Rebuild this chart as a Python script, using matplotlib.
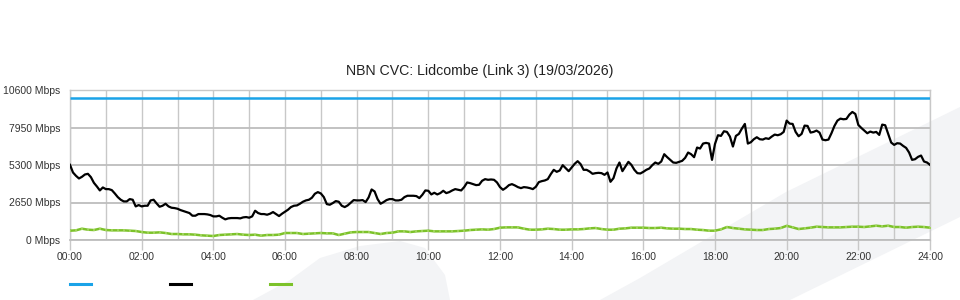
import matplotlib
matplotlib.use('Agg')
import matplotlib.pyplot as plt
import numpy as np
from matplotlib.lines import Line2D
from matplotlib.patches import Polygon

plt.rcParams['font.family'] = ['Liberation Sans', 'DejaVu Sans']

# ---------------- data ----------------
title = "NBN CVC: Lidcombe (Link 3) (19/03/2026)"
capacity_mbps = 10000
black_step_min = 5
black_mbps = [
    5311, 4770, 4536, 4348, 4465, 4630, 4677, 4442, 4042, 3784, 3502, 3713,
    3596, 3596, 3525, 3290, 3032, 2844, 2726, 2726, 2891, 2844, 2374, 2468,
    2374, 2421, 2421, 2797, 2844, 2585, 2350, 2421, 2562, 2374, 2280, 2256,
    2209, 2115, 2045, 1974, 1904, 1716, 1716, 1833, 1833, 1833, 1810, 1763,
    1669, 1669, 1716, 1575, 1457, 1528, 1551, 1551, 1551, 1528, 1598, 1622,
    1575, 1669, 2068, 1904, 1833, 1833, 1786, 1857, 1974, 1833, 1692, 1857,
    1998, 2139, 2327, 2421, 2444, 2562, 2703, 2797, 2844, 2985, 3267, 3384,
    3290, 3032, 2538, 2491, 2609, 2750, 2703, 2421, 2327, 2444, 2632, 2820,
    2797, 2797, 2820, 2679, 3008, 3572, 3431, 2891, 2562, 2679, 2820, 2891,
    2891, 2797, 2797, 2844, 3032, 3126, 3126, 3126, 3102, 2961, 3196, 3502,
    3478, 3220, 3337, 3220, 3314, 3478, 3314, 3384, 3502, 3596, 3549, 3502,
    3737, 4066, 4019, 3948, 3878, 3901, 4183, 4301, 4254, 4277, 4254, 4066,
    3737, 3549, 3690, 3878, 3948, 3854, 3737, 3666, 3737, 3713, 3666, 3596,
    3760, 4089, 4160, 4207, 4301, 4653, 4959, 4818, 4912, 5288, 5076, 4865,
    5123, 5382, 5570, 5358, 4959, 4959, 4841, 4677, 4724, 4747, 4724, 4606,
    4771, 4113, 4371, 5053, 5476, 4865, 5194, 5523, 5311, 4959, 4724, 4700,
    4818, 4959, 5053, 5288, 5476, 5382, 5546, 6063, 5852, 5664, 5476, 5452,
    5523, 5593, 5805, 6181, 6063, 5852, 6533, 6463, 6815, 6862, 6815, 5664,
    6792, 7403, 7356, 7685, 7638, 7309, 6604, 7356, 7497, 7873, 8202, 6815,
    6909, 7121, 7262, 7121, 7097, 7191, 7144, 7309, 7450, 7403, 7473, 7638,
    8437, 8225, 8202, 7638, 7332, 7497, 8084, 8061, 7591, 7638, 7732, 7591,
    7097, 7050, 7097, 7544, 8061, 8437, 8578, 8531, 8554, 8860, 9048, 8907,
    8131, 7920, 7732, 7544, 7662, 7591, 7638, 7426, 8155, 8108, 7497, 6886,
    6721, 6839, 6815, 6650, 6510, 6181, 5664, 5711, 5875, 5969, 5546, 5476,
    5311,
]
green_step_min = 10
green_mbps = [
    658, 682, 799, 728, 705, 799, 705, 682, 682, 682, 658, 635,
    564, 517, 517, 540, 494, 423, 423, 400, 400, 376, 329, 306,
    282, 353, 376, 400, 423, 376, 353, 376, 306, 353, 353, 376,
    494, 494, 494, 423, 447, 470, 494, 470, 470, 353, 447, 540,
    564, 564, 564, 494, 423, 494, 517, 611, 611, 564, 611, 635,
    658, 611, 611, 611, 611, 635, 658, 705, 728, 752, 728, 775,
    870, 893, 893, 893, 799, 728, 728, 752, 799, 775, 728, 728,
    752, 752, 775, 822, 846, 775, 728, 728, 799, 822, 870, 870,
    870, 846, 846, 870, 822, 799, 799, 775, 775, 728, 705, 658,
    658, 752, 917, 846, 799, 752, 728, 705, 705, 775, 799, 846,
    1000, 893, 775, 822, 870, 940, 917, 893, 893, 893, 917, 940,
    940, 917, 964, 1010, 964, 1010, 917, 917, 870, 917, 940, 917,
    870,
]
y_ticks = [0, 2650, 5300, 7950, 10600]
x_tick_hours = list(range(0, 25, 2))
x_tick_labels = [f"{h:02d}:00" for h in x_tick_hours]

t_black = np.arange(len(black_mbps)) * black_step_min / 60.0
t_green = np.arange(len(green_mbps)) * green_step_min / 60.0

# ---------------- figure ----------------
W, H = 960, 300
fig = plt.figure(figsize=(W / 100, H / 100), dpi=100)
fig.patch.set_facecolor('white')

def fpts(pts):
    return [(x / W, 1 - y / H) for x, y in pts]

bg = '#f3f4f6'
fig.add_artist(Polygon(fpts([(600, 300), (640, 278), (786, 192), (960, 107),
                             (960, 217), (790, 300)]),
                       closed=True, transform=fig.transFigure,
                       facecolor=bg, edgecolor='none', zorder=0))
fig.add_artist(Polygon(fpts([(253, 300), (290, 280), (320, 258), (360, 246),
                             (400, 241), (425, 248), (445, 275), (450, 300)]),
                       closed=True, transform=fig.transFigure,
                       facecolor=bg, edgecolor='none', zorder=0))

ax = fig.add_axes([70 / W, 60 / H, 860 / W, 150 / H])
ax.set_facecolor('none')
ax.set_zorder(1)

grid_c = '#c8c8c8'
ax.set_xlim(0, 24)
ax.set_ylim(0, 10600)
ax.set_xticks(x_tick_hours)
ax.set_xticklabels(x_tick_labels, fontsize=7.5, color='#333333')
ax.set_xticks(range(0, 25), minor=True)
ax.set_yticks(y_ticks)
ax.set_yticklabels([f"{v} Mbps" for v in y_ticks], fontsize=7.5, color='#333333')

ax.grid(which='both', axis='x', color=grid_c, lw=1.0, zorder=0)
ax.grid(which='major', axis='y', color='#bdbdbd', lw=1.3, zorder=0)
ax.tick_params(axis='x', which='major', length=7.2, width=1.0, color=grid_c, pad=1.5)
ax.tick_params(axis='x', which='minor', length=0)
ax.tick_params(axis='y', length=0, pad=7)
for s in ax.spines.values():
    s.set_color(grid_c)
    s.set_linewidth(1.0)
ax.spines['bottom'].set_color('#bdbdbd')
ax.spines['bottom'].set_linewidth(1.3)

ax.plot(t_black, [capacity_mbps] * len(t_black), color='#1aa3e8', lw=1.8, zorder=3,
        solid_capstyle='butt')
ax.plot(t_green, green_mbps, color='#7cc22a', lw=1.8, zorder=3,
        marker='s', markersize=1.6, markerfacecolor='#9fd35a', markeredgewidth=0)
ax.plot(t_black, black_mbps, color='black', lw=1.6, zorder=4)

fig.text(0.5, 1 - 71 / H, title, ha='center', va='center', fontsize=10.2, color='#222222')

handles = [Line2D([], [], color='#1aa3e8', lw=2.2),
           Line2D([], [], color='black', lw=2.2),
           Line2D([], [], color='#7cc22a', lw=2.2)]
fig.legend(handles, ['', '', ''], loc='center left',
           bbox_to_anchor=(70 / W, 1 - 285 / H), ncol=3, frameon=False,
           fontsize=10, handlelength=1.5, handletextpad=0.0, columnspacing=5.69,
           borderpad=0, borderaxespad=0)

fig.savefig('out.png', dpi=100, facecolor='white')
